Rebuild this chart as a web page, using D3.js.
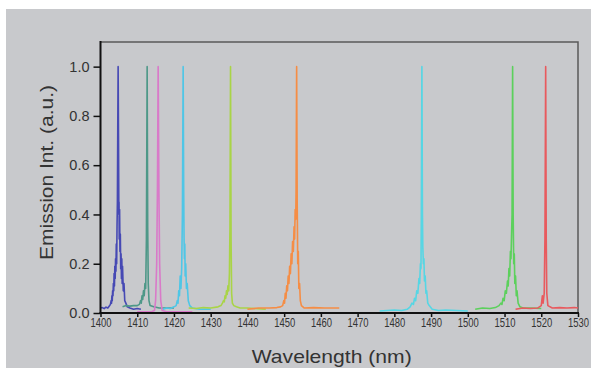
<!DOCTYPE html>
<html>
<head>
<meta charset="utf-8">
<script src="https://cdn.jsdelivr.net/npm/d3@7"></script>
<style>
  html, body { margin: 0; padding: 0; background: #fff; }
  svg { display: block; }
</style>
</head>
<body>
<script>
// spectra: [wavelength nm, normalised intensity]
const blue = [[1400,0.02],[1400.5,0.022],[1401,0.018],[1401.5,0.024],[1402,0.02],[1402.4,0.028],[1402.7,0.035],[1402.9,0.05],[1403,0.04],[1403.1,0.07],[1403.2,0.05],[1403.3,0.09],[1403.4,0.07],[1403.5,0.12],[1403.6,0.09],[1403.7,0.16],[1403.8,0.11],[1403.9,0.19],[1404,0.14],[1404.1,0.22],[1404.2,0.17],[1404.3,0.28],[1404.4,0.2],[1404.5,0.35],[1404.6,0.45],[1404.7,0.75],[1404.8,1.0],[1404.9,0.72],[1405,0.4],[1405.05,0.45],[1405.1,0.3],[1405.2,0.42],[1405.3,0.25],[1405.4,0.32],[1405.5,0.18],[1405.6,0.24],[1405.7,0.14],[1405.8,0.22],[1405.9,0.12],[1406,0.19],[1406.2,0.09],[1406.4,0.12],[1406.6,0.05],[1406.9,0.04],[1407.3,0.025],[1408,0.02],[1409,0.015],[1410,0.018],[1411,0.015]];
const teal = [[1406,0.025],[1407,0.03],[1408,0.028],[1409,0.03],[1410,0.03],[1410.6,0.035],[1410.9,0.05],[1411.1,0.04],[1411.3,0.07],[1411.5,0.055],[1411.7,0.09],[1411.9,0.07],[1412.1,0.12],[1412.3,0.1],[1412.5,0.3],[1412.7,1.0],[1412.85,0.35],[1413,0.12],[1413.2,0.05],[1413.5,0.03],[1414.5,0.025],[1416,0.02],[1418,0.02],[1420,0.02]];
const pink = [[1410,0.005],[1412,0.005],[1414,0.006],[1414.7,0.01],[1415,0.05],[1415.3,0.2],[1415.5,0.5],[1415.7,1.0],[1415.9,0.5],[1416.1,0.2],[1416.4,0.05],[1416.8,0.01],[1418,0.005],[1420,0.005],[1425,0.005]];
const cyanA = [[1417,0.015],[1418,0.02],[1419,0.018],[1420,0.025],[1420.6,0.03],[1420.9,0.05],[1421.1,0.04],[1421.3,0.09],[1421.5,0.07],[1421.7,0.15],[1421.9,0.1],[1422.1,0.18],[1422.3,0.4],[1422.5,1.0],[1422.65,0.5],[1422.75,0.3],[1422.85,0.22],[1422.95,0.28],[1423.05,0.15],[1423.2,0.2],[1423.4,0.1],[1423.6,0.12],[1423.9,0.05],[1424.3,0.03],[1425,0.02],[1427,0.015],[1430,0.015]];
const lime = [[1424,0.02],[1426,0.018],[1428,0.022],[1430,0.02],[1432,0.025],[1432.8,0.03],[1433.2,0.04],[1433.5,0.05],[1433.7,0.045],[1433.9,0.07],[1434.1,0.06],[1434.3,0.09],[1434.5,0.075],[1434.7,0.11],[1434.9,0.09],[1435.1,0.16],[1435.25,0.35],[1435.4,1.0],[1435.55,0.3],[1435.7,0.08],[1435.9,0.04],[1436.3,0.03],[1437,0.025],[1438,0.02],[1440,0.02],[1442,0.018],[1445,0.015]];
const orange = [[1440,0.015],[1443,0.02],[1446,0.02],[1448,0.022],[1449,0.025],[1449.6,0.03],[1449.9,0.05],[1450.1,0.04],[1450.3,0.08],[1450.5,0.06],[1450.7,0.11],[1450.9,0.09],[1451.1,0.15],[1451.3,0.12],[1451.5,0.19],[1451.7,0.16],[1451.9,0.24],[1452.1,0.2],[1452.3,0.29],[1452.5,0.25],[1452.7,0.35],[1452.85,0.3],[1453,0.42],[1453.15,0.38],[1453.25,0.5],[1453.4,1.0],[1453.55,0.45],[1453.7,0.2],[1453.85,0.25],[1454,0.1],[1454.2,0.12],[1454.4,0.05],[1454.7,0.03],[1455.5,0.02],[1458,0.022],[1461,0.02],[1465,0.02]];
const cyanB = [[1476,0.008],[1478,0.01],[1480,0.012],[1482,0.01],[1483.5,0.015],[1484.3,0.025],[1484.8,0.04],[1485.2,0.035],[1485.5,0.06],[1485.8,0.05],[1486.1,0.09],[1486.4,0.08],[1486.7,0.14],[1486.9,0.12],[1487.1,0.2],[1487.25,0.18],[1487.35,0.4],[1487.5,1.0],[1487.65,0.4],[1487.75,0.27],[1487.9,0.2],[1488.05,0.22],[1488.2,0.13],[1488.4,0.15],[1488.6,0.08],[1488.8,0.09],[1489.1,0.04],[1489.5,0.03],[1490.3,0.015],[1492,0.01],[1494,0.012],[1497,0.01],[1500,0.008]];
const green = [[1502,0.015],[1504,0.02],[1506,0.018],[1507.5,0.022],[1508.5,0.03],[1509,0.04],[1509.3,0.035],[1509.6,0.06],[1509.9,0.05],[1510.2,0.09],[1510.5,0.08],[1510.8,0.13],[1511,0.11],[1511.2,0.18],[1511.4,0.15],[1511.6,0.25],[1511.75,0.22],[1511.9,0.31],[1512.05,0.4],[1512.2,1.0],[1512.35,0.4],[1512.5,0.2],[1512.65,0.24],[1512.8,0.12],[1513,0.15],[1513.2,0.07],[1513.4,0.09],[1513.7,0.04],[1514.2,0.025],[1515,0.02],[1517,0.02],[1520,0.018]];
const red = [[1513,0.015],[1515,0.02],[1517,0.018],[1519,0.02],[1520,0.03],[1520.3,0.07],[1520.5,0.04],[1520.8,0.08],[1521,0.3],[1521.2,1.0],[1521.35,0.3],[1521.5,0.08],[1521.8,0.03],[1523,0.02],[1525,0.022],[1527,0.02],[1529,0.022],[1530,0.02]];

const spectra = [blue, teal, pink, cyanA, lime, orange, cyanB, green, red];
const colors = ['#4649b4', '#4e9888', '#d97ac9', '#4fc6e6', '#a9d447', '#f58d45', '#56d6e4', '#5cd05c', '#e85a5e'];

const xMajor = d3.range(1400, 1531, 10);
const xMinor = d3.range(1405, 1530, 10);
const yMajor = [0, 0.2, 0.4, 0.6, 0.8, 1.0];
const yMinor = [0.1, 0.3, 0.5, 0.7, 0.9, 1.1];

const W = 591, H = 368;
const font = '"Liberation Sans", Arial, sans-serif';
const ink = '#333';

const svg = d3.select('body').append('svg')
  .attr('width', W)
  .attr('height', H);

// page background
svg.append('rect').attr('width', W).attr('height', H).attr('fill', '#fff');
svg.append('rect')
  .attr('x', 6).attr('y', 9)
  .attr('width', W - 6).attr('height', H - 9)
  .attr('fill', '#c8c9cc');

const x = d3.scaleLinear().domain([1400, 1530]).range([100.5, 578]);
const y = d3.scaleLinear().domain([0, 1.1]).range([313, 42]);

// frame top / right
svg.append('path')
  .attr('d', `M${x(1400)},${y(1.1)}H${x(1530)}V${y(0)}`)
  .attr('fill', 'none')
  .attr('stroke', '#5a5a5a')
  .attr('stroke-width', 1.5);

// spectra
const line = d3.line().x(d => x(d[0])).y(d => y(d[1]));
svg.append('g')
  .selectAll('path')
  .data(spectra)
  .join('path')
  .attr('d', line)
  .attr('fill', 'none')
  .attr('stroke', (d, i) => colors[i])
  .attr('stroke-width', 1.6)
  .attr('stroke-linejoin', 'round');

// x axis
const gx = svg.append('g').attr('transform', `translate(0,${y(0)})`);
gx.call(d3.axisBottom(x).tickValues(xMinor).tickSize(3).tickFormat(''));
gx.call(d3.axisBottom(x).tickValues(xMajor).tickSize(4).tickPadding(1).tickFormat(d3.format('d')));
gx.selectAll('.domain').remove();
gx.append('line')
  .attr('x1', x(1400) - 1).attr('x2', x(1530) + 1)
  .attr('stroke', '#111').attr('stroke-width', 2);
gx.selectAll('.tick line').attr('stroke', '#111').attr('stroke-width', 1.5);
gx.selectAll('.tick text')
  .attr('font-family', font)
  .attr('font-size', 13)
  .attr('fill', ink)
  .attr('textLength', 21)
  .attr('lengthAdjust', 'spacingAndGlyphs');

// y axis
const gy = svg.append('g').attr('transform', `translate(${x(1400)},0)`);
gy.call(d3.axisLeft(y).tickValues(yMinor).tickSize(4).tickFormat(''));
gy.call(d3.axisLeft(y).tickValues(yMajor).tickSize(7).tickPadding(4).tickFormat(d3.format('.1f')));
gy.selectAll('.domain').remove();
gy.append('line')
  .attr('y1', y(1.1) - 1).attr('y2', y(0) + 1)
  .attr('stroke', '#111').attr('stroke-width', 2);
gy.selectAll('.tick line').attr('stroke', '#111').attr('stroke-width', 1.5);
gy.selectAll('.tick text')
  .attr('font-family', font)
  .attr('font-size', 14.5)
  .attr('fill', ink);

// axis titles
svg.append('text')
  .attr('x', 331.7).attr('y', 363)
  .attr('text-anchor', 'middle')
  .attr('font-family', font)
  .attr('font-size', 19)
  .attr('fill', ink)
  .attr('textLength', 160)
  .attr('lengthAdjust', 'spacingAndGlyphs')
  .text('Wavelength (nm)');

svg.append('text')
  .attr('transform', 'translate(53,172.5) rotate(-90)')
  .attr('text-anchor', 'middle')
  .attr('font-family', font)
  .attr('font-size', 19)
  .attr('fill', ink)
  .attr('textLength', 175)
  .attr('lengthAdjust', 'spacingAndGlyphs')
  .text('Emission Int. (a.u.)');
</script>
</body>
</html>
